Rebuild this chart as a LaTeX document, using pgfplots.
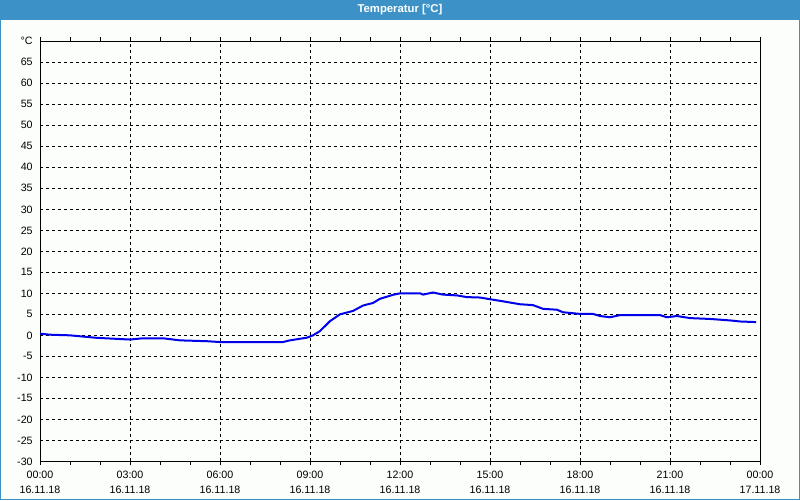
\documentclass[border=0pt]{standalone}
\usepackage{pgfplots}
\pgfplotsset{compat=1.18}
\usepackage{fontspec}
\setmainfont{Liberation Sans}
\definecolor{titlebar}{RGB}{60,146,198}
\definecolor{bg}{RGB}{252,254,252}
\definecolor{lineblue}{RGB}{0,0,235}
\begin{document}
\begin{tikzpicture}
\useasboundingbox (0,0) rectangle (600pt,375pt);
\fill[bg] (0,0) rectangle (600pt,375pt);
\fill[titlebar] (0,360pt) rectangle (600pt,375pt);
\draw[titlebar,line width=0.75pt] (0.375pt,0.375pt) rectangle (599.625pt,374.625pt);
\node[text=white,font=\bfseries\fontsize{8.5}{10}\selectfont] at (300pt,367.5pt) {Temperatur [°C]};
\begin{axis}[
  at={(30pt,29pt)}, anchor=south west,
  scale only axis, width=540pt, height=315pt,
  xmin=0, xmax=24, ymin=-30, ymax=70,
  axis line style={black,line width=0.75pt},
  xtick={0,3,...,24},
  minor xtick={1,2,4,5,7,8,10,11,13,14,16,17,19,20,22,23},
  xticklabels={{00:00\\16.11.18},{03:00\\16.11.18},{06:00\\16.11.18},{09:00\\16.11.18},{12:00\\16.11.18},{15:00\\16.11.18},{18:00\\16.11.18},{21:00\\16.11.18},{00:00\\17.11.18}},
  xticklabel style={align=center,font=\fontsize{8}{11.25}\selectfont,yshift=-0.5pt},
  ytick={-30,-25,...,70},
  yticklabels={-30,-25,-20,-15,-10,-5,0,5,10,15,20,25,30,35,40,45,50,55,60,65,°C},
  yticklabel style={font=\fontsize{8}{10}\selectfont,xshift=1pt},
  /pgf/number format/assume math mode=true,
  tick align=outside, major tick length=3pt, minor tick length=3pt,
  tick style={black,line width=0.75pt},
  ytick style={draw=none},
  xmajorgrids, ymajorgrids,
  major grid style={black,line width=0.75pt,dash pattern=on 2.25pt off 2.25pt},
]
\addplot[lineblue,line width=1.5pt] coordinates {
(0,0.4) (0.33,0.15) (1.0,0.0) (1.89,-0.6) (3.0,-1.0) (3.43,-0.7) (4.1,-0.7)
(4.67,-1.2) (5.57,-1.4) (6.0,-1.6) (8.1,-1.6) (8.33,-1.2) (8.9,-0.55) (9.1,0.0)
(9.33,1.0) (9.67,3.4) (10.0,5.0) (10.43,5.8) (10.77,7.1) (11.1,7.7) (11.33,8.7)
(11.77,9.65) (12.0,10.0) (12.67,10.0) (12.77,9.7) (13.1,10.2) (13.43,9.7)
(13.9,9.5) (14.23,9.1) (14.67,9.0) (15.0,8.6) (15.43,8.1) (16.0,7.4) (16.43,7.2)
(16.77,6.3) (17.23,6.1) (17.43,5.5) (18.0,5.1) (18.43,5.1) (18.67,4.6) (19.0,4.3)
(19.33,4.8) (20.67,4.8) (20.9,4.3) (21.23,4.6) (21.67,4.1) (22.33,3.9) (23.0,3.55)
(23.33,3.3) (23.87,3.15)
};
\end{axis}
\end{tikzpicture}
\end{document}
